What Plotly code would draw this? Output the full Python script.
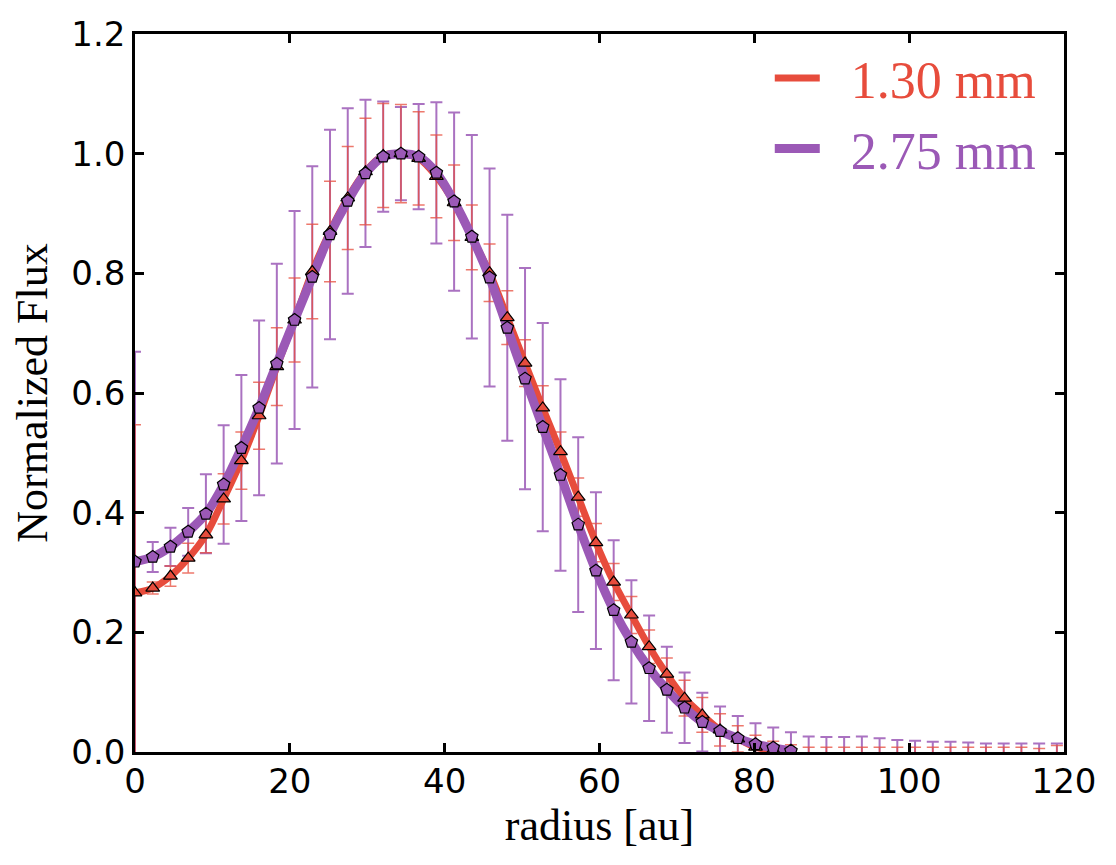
import plotly.graph_objects as go

radius = [0, 2.29, 4.58, 6.87, 9.16, 11.45, 13.74, 16.03, 18.32, 20.61, 22.9, 25.19,
          27.48, 29.77, 32.06, 34.35, 36.64, 38.93, 41.22, 43.51, 45.8, 48.09, 50.38,
          52.67, 54.96, 57.25, 59.54, 61.83, 64.12, 66.41, 68.7, 70.99, 73.28, 75.57,
          77.86, 80.15, 82.44, 84.73, 87.02, 89.31, 91.6, 93.89, 96.18, 98.47, 100.76,
          103.05, 105.34, 107.63, 109.92, 112.21, 114.5, 116.79, 119.08]

flux_130 = [0.266, 0.274, 0.294, 0.324, 0.363, 0.423, 0.487, 0.562, 0.644, 0.722, 0.803,
            0.870, 0.926, 0.970, 0.997, 1.000, 0.992, 0.962, 0.918, 0.860, 0.801, 0.726,
            0.650, 0.575, 0.502, 0.426, 0.350, 0.284, 0.229, 0.176, 0.130, 0.090, 0.062,
            0.037, 0.022, 0.008, 0.003, 0.0, 0.0, 0.0, 0.0, 0.0, 0.0, 0.0, 0.0, 0.0, 0.0,
            0.0, 0.0, 0.0, 0.0, 0.0, 0.0]
err_130 = [0.281, 0.010, 0.017, 0.025, 0.030, 0.042, 0.048, 0.056, 0.065, 0.070, 0.079,
           0.084, 0.086, 0.089, 0.087, 0.082, 0.078, 0.069, 0.063, 0.054, 0.048, 0.045,
           0.039, 0.037, 0.033, 0.032, 0.032, 0.031, 0.031, 0.028, 0.027, 0.030, 0.029,
           0.027, 0.022, 0.020, 0.015, 0.012, 0.008, 0.008, 0.008, 0.008, 0.008, 0.008,
           0.008, 0.008, 0.008, 0.008, 0.008, 0.008, 0.008, 0.006, 0.011]

flux_275 = [0.318, 0.326, 0.343, 0.368, 0.398, 0.447, 0.508, 0.575, 0.649, 0.722, 0.794,
            0.865, 0.921, 0.967, 0.995, 1.000, 0.995, 0.968, 0.920, 0.861, 0.793, 0.709,
            0.624, 0.543, 0.463, 0.380, 0.303, 0.237, 0.184, 0.140, 0.104, 0.074, 0.050,
            0.035, 0.023, 0.013, 0.007, 0.002, 0.0, 0.0, 0.0, 0.0, 0.0, 0.0, 0.0, 0.0, 0.0,
            0.0, 0.0, 0.0, 0.0, 0.0, 0.0]
err_275 = [0.351, 0.025, 0.032, 0.040, 0.066, 0.099, 0.122, 0.146, 0.167, 0.182, 0.185,
           0.175, 0.155, 0.123, 0.092, 0.078, 0.088, 0.118, 0.149, 0.170, 0.182, 0.189,
           0.185, 0.174, 0.160, 0.146, 0.131, 0.117, 0.103, 0.088, 0.072, 0.059, 0.049,
           0.041, 0.037, 0.035, 0.034, 0.031, 0.026, 0.025, 0.025, 0.026, 0.023, 0.020,
           0.019, 0.017, 0.017, 0.016, 0.014, 0.014, 0.014, 0.014, 0.014]

n_visible = 38  # curve and markers are visible out to ~85 au

x_ticks = [0, 20, 40, 60, 80, 100, 120]
y_ticks = [0.0, 0.2, 0.4, 0.6, 0.8, 1.0, 1.2]

RED = "#e74c3c"
PURPLE = "#9b59b6"
GAP = "\u00a0\u00a0"

fig = go.Figure()

# error bars
fig.add_trace(go.Scatter(
    x=radius, y=flux_275, mode="markers", marker=dict(size=0.1, color="rgba(0,0,0,0)"),
    error_y=dict(type="data", array=err_275, color="rgba(155,89,182,0.85)", thickness=2, width=6),
    showlegend=False, hoverinfo="skip"))
fig.add_trace(go.Scatter(
    x=radius, y=flux_130, mode="markers", marker=dict(size=0.1, color="rgba(0,0,0,0)"),
    error_y=dict(type="data", array=err_130, color="rgba(231,76,60,0.75)", thickness=1.5, width=6),
    showlegend=False, hoverinfo="skip"))

# lines
fig.add_trace(go.Scatter(
    x=radius[:n_visible], y=flux_130[:n_visible], mode="lines",
    line=dict(color=RED, width=7, shape="spline"),
    name=f"<span style='color:{RED}'>{GAP}1.30 mm</span>"))
fig.add_trace(go.Scatter(
    x=radius[:n_visible], y=flux_275[:n_visible], mode="lines",
    line=dict(color=PURPLE, width=9, shape="spline"),
    name=f"<span style='color:{PURPLE}'>{GAP}2.75 mm</span>"))

# markers
fig.add_trace(go.Scatter(
    x=radius[:n_visible], y=flux_130[:n_visible], mode="markers",
    marker=dict(symbol="triangle-up", size=12, color=RED, line=dict(color="black", width=1.2)),
    showlegend=False))
fig.add_trace(go.Scatter(
    x=radius[:n_visible], y=flux_275[:n_visible], mode="markers",
    marker=dict(symbol="pentagon", size=13, color=PURPLE, line=dict(color="black", width=1.2)),
    showlegend=False))

axis_common = dict(
    showline=True, linecolor="black", linewidth=2.5, mirror="ticks",
    ticks="inside", ticklen=9, tickwidth=2.5, tickcolor="black",
    showgrid=False, zeroline=False,
    tickfont=dict(family="DejaVu Sans", size=34, color="black"),
)

fig.update_xaxes(range=[0, 120], tickvals=x_ticks, ticktext=[str(v) for v in x_ticks],
                 ticklabelstandoff=-3,
                 title=dict(text="radius [au]", font=dict(family="Liberation Serif", size=44, color="black"),
                            standoff=6),
                 **axis_common)
fig.update_yaxes(range=[0, 1.2], tickvals=y_ticks, ticktext=[f"{v:.1f}" for v in y_ticks],
                 title=dict(text="Normalized Flux", font=dict(family="Liberation Serif", size=44, color="black"),
                            standoff=10),
                 **axis_common)

fig.update_layout(
    width=1116, height=865,
    margin=dict(l=135, r=52, t=34, b=113),
    paper_bgcolor="white", plot_bgcolor="white",
    legend=dict(x=0.975, y=0.995, xanchor="right", yanchor="top",
                bgcolor="rgba(0,0,0,0)", font=dict(family="Liberation Serif", size=52),
                itemwidth=45, tracegroupgap=0),
    showlegend=True,
)

fig.write_html("out.html")
